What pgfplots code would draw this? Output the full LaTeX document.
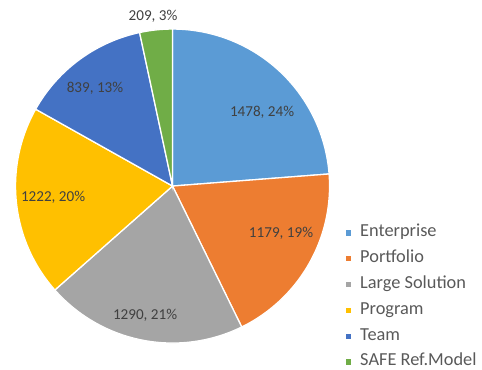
\documentclass[border=0pt]{standalone}
\usepackage{fontspec}
\setmainfont{Carlito}
\usepackage{pgfplots}
\pgfplotsset{compat=1.18}
\definecolor{cEnt}{HTML}{5B9BD5}
\definecolor{cPor}{HTML}{ED7D31}
\definecolor{cLar}{HTML}{A5A5A5}
\definecolor{cPro}{HTML}{FFC000}
\definecolor{cTea}{HTML}{4472C4}
\definecolor{cSaf}{HTML}{70AD47}
\definecolor{lblgray}{HTML}{404040}
\definecolor{leggray}{HTML}{595959}
\tikzset{lbl/.style={font=\fontsize{15.2}{15.2}\selectfont, text=lblgray, inner sep=0pt}}
\begin{document}
\begin{tikzpicture}
% data values
\def\vA{1478}\def\vB{1179}\def\vC{1290}\def\vD{1222}\def\vE{839}\def\vF{209}
\pgfmathsetmacro\tot{\vA+\vB+\vC+\vD+\vE+\vF}
\pgfmathsetmacro\aA{90}
\pgfmathsetmacro\aB{\aA-\vA/\tot*360}
\pgfmathsetmacro\aC{\aB-\vB/\tot*360}
\pgfmathsetmacro\aD{\aC-\vC/\tot*360}
\pgfmathsetmacro\aE{\aD-\vD/\tot*360}
\pgfmathsetmacro\aF{\aE-\vE/\tot*360}
\pgfmathsetmacro\aG{\aF-\vF/\tot*360}
\begin{axis}[
  hide axis,
  x=157bp, y=157bp,
  xmin=-1.099, xmax=1.971, ymin=-1.166, ymax=1.185,
  clip=false,
  slice/.style={draw=white, line width=1.3pt, samples=72, variable=\t},
  legend image code/.code={\path[#1,draw=none] (0bp,-2.6bp) rectangle (5.2bp,2.6bp);},
  legend cell align=left,
  legend style={at={(axis cs:1.105,-0.248)}, anchor=north west, draw=none, fill=none,
    inner sep=0pt, outer sep=0pt, row sep=9.8bp, column sep=0bp,
    font=\fontsize{18.4}{18.4}\selectfont, text=leggray,
    nodes={inner sep=0pt, text height=12bp, text depth=4bp},
    /tikz/every odd column/.append style={column sep=9bp}},
]
\addplot[slice, fill=cEnt, domain=\aB:\aA] ({cos(\t)},{sin(\t)}) -- (axis cs:0,0) -- cycle;
\addlegendentry{Enterprise}
\addplot[slice, fill=cPor, domain=\aC:\aB] ({cos(\t)},{sin(\t)}) -- (axis cs:0,0) -- cycle;
\addlegendentry{Portfolio}
\addplot[slice, fill=cLar, domain=\aD:\aC] ({cos(\t)},{sin(\t)}) -- (axis cs:0,0) -- cycle;
\addlegendentry{Large Solution}
\addplot[slice, fill=cPro, domain=\aE:\aD] ({cos(\t)},{sin(\t)}) -- (axis cs:0,0) -- cycle;
\addlegendentry{Program}
\addplot[slice, fill=cTea, domain=\aF:\aE] ({cos(\t)},{sin(\t)}) -- (axis cs:0,0) -- cycle;
\addlegendentry{Team}
\addplot[slice, fill=cSaf, domain=\aG:\aF] ({cos(\t)},{sin(\t)}) -- (axis cs:0,0) -- cycle;
\addlegendentry{SAFE Ref.Model}
\node[lbl] at (axis cs:0.570,0.471) {1478, 24\%};
\node[lbl] at (axis cs:0.691,-0.299) {1179, 19\%};
\node[lbl] at (axis cs:-0.175,-0.822) {1290, 21\%};
\node[lbl] at (axis cs:-0.761,-0.070) {1222, 20\%};
\node[lbl] at (axis cs:-0.494,0.624) {839, 13\%};
\node[lbl] at (axis cs:-0.124,1.083) {209, 3\%};
\end{axis}
\pgfresetboundingbox
\path (current axis.south west) rectangle (current axis.north east);
\end{tikzpicture}
\end{document}
